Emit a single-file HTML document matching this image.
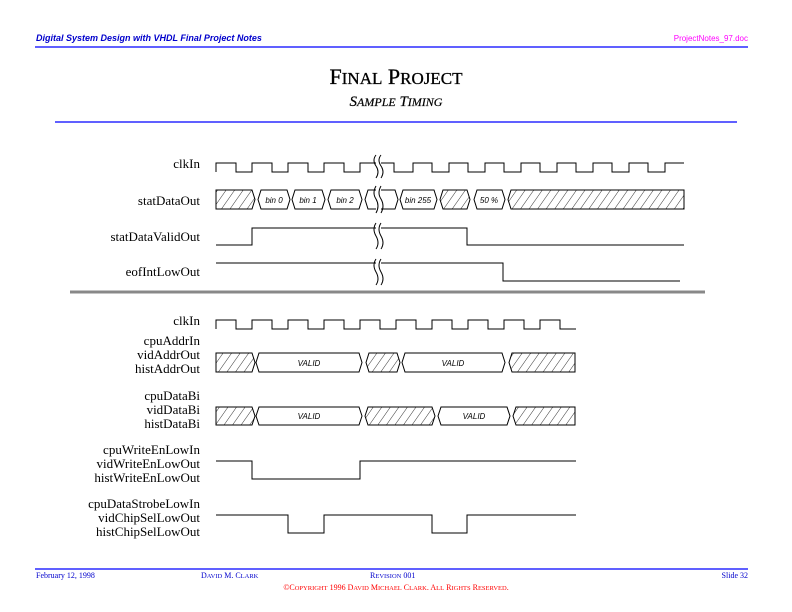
<!DOCTYPE html>
<html><head><meta charset="utf-8"><style>
html,body{margin:0;padding:0;background:#fff}
svg{display:block}
text{font-family:"Liberation Serif",serif}
</style></head><body>
<svg width="792" height="612" viewBox="0 0 792 612" xmlns="http://www.w3.org/2000/svg">
<defs>
<pattern id="h" patternUnits="userSpaceOnUse" width="7" height="7" patternTransform="rotate(35)">
<line x1="0" y1="0" x2="0" y2="7" stroke="#000" stroke-width="0.8"/>
</pattern>
</defs>
<text x="36" y="41" font-style="italic" font-weight="bold" font-size="9" fill="#0000cc" style="font-family:'Liberation Sans',sans-serif">Digital System Design with VHDL Final Project Notes</text>
<text x="748" y="41" text-anchor="end" font-size="8" fill="#ff00ff" style="font-family:'Liberation Sans',sans-serif">ProjectNotes_97.doc</text>
<line x1="35" y1="47" x2="748" y2="47" stroke="#0000ff" stroke-width="1.2"/>
<text x="396" y="84" text-anchor="middle" font-size="22" fill="#000" stroke="#000" stroke-width="0.3">F<tspan font-size="17">INAL</tspan> P<tspan font-size="17">ROJECT</tspan></text>
<text x="396" y="106" text-anchor="middle" font-size="15" font-style="italic" fill="#000" stroke="#000" stroke-width="0.2">S<tspan font-size="12">AMPLE</tspan> T<tspan font-size="12">IMING</tspan></text>
<line x1="55" y1="122" x2="737" y2="122" stroke="#0000ff" stroke-width="1.2"/>

<g font-size="13" text-anchor="end" fill="#000">
<text x="200" y="168">clkIn</text>
<text x="200" y="205">statDataOut</text>
<text x="200" y="241">statDataValidOut</text>
<text x="200" y="276">eofIntLowOut</text>
<text x="200" y="325">clkIn</text>
<text x="200" y="345">cpuAddrIn</text>
<text x="200" y="359">vidAddrOut</text>
<text x="200" y="373">histAddrOut</text>
<text x="200" y="400">cpuDataBi</text>
<text x="200" y="414">vidDataBi</text>
<text x="200" y="428">histDataBi</text>
<text x="200" y="454">cpuWriteEnLowIn</text>
<text x="200" y="468">vidWriteEnLowOut</text>
<text x="200" y="482">histWriteEnLowOut</text>
<text x="200" y="508">cpuDataStrobeLowIn</text>
<text x="200" y="522">vidChipSelLowOut</text>
<text x="200" y="536">histChipSelLowOut</text>
</g>

<g fill="none" stroke="#000" stroke-width="1">
<path d="M216 172 V163 H236 V172 H252 V163 H272 V172 H288 V163 H308 V172 H324 V163 H344 V172 H360 V163 H376 M381 163 H394 V172 H413 V163 H432 V172 H449 V163 H468 V172 H485 V163 H504 V172 H521 V163 H540 V172 H557 V163 H576 V172 H593 V163 H612 V172 H629 V163 H648 V172 H665 V163 H684"/>
<path d="M216 245 H252 V228 H376 M381 228 H467 V245 H684"/>
<path d="M216 263 H376 M381 263 H503 V281 H680"/>
<path d="M216 329 V320 H236 V329 H252 V320 H272 V329 H288 V320 H308 V329 H324 V320 H344 V329 H360 V320 H380 V329 H396 V320 H416 V329 H432 V320 H452 V329 H468 V320 H488 V329 H504 V320 H524 V329 H540 V320 H560 V329 H576"/>
<path d="M216 461 H252 V479 H360 V461 H576"/>
<path d="M216 515 H288 V533 H324 V515 H432 V533 H467 V515 H576"/>
</g>

<g stroke="#000" stroke-width="1">
<path d="M216 190 H252 L255 199.5 L252 209 H216 Z" fill="url(#h)"/>
<path d="M258 199.5 L261 190 H287 L290 199.5 L287 209 H261 Z" fill="#fff"/>
<path d="M292 199.5 L295 190 H322 L325 199.5 L322 209 H295 Z" fill="#fff"/>
<path d="M328 199.5 L331 190 H359 L362 199.5 L359 209 H331 Z" fill="#fff"/>
<path d="M376 209 H368 L365 199.5 L368 190 H376" fill="none"/>
<path d="M381 190 H395 L398 199.5 L395 209 H381" fill="none"/>
<path d="M400 199.5 L403 190 H434 L437 199.5 L434 209 H403 Z" fill="#fff"/>
<path d="M440 199.5 L443 190 H467 L470 199.5 L467 209 H443 Z" fill="url(#h)"/>
<path d="M474 199.5 L477 190 H502 L505 199.5 L502 209 H477 Z" fill="#fff"/>
<path d="M508 199.5 L511 190 H684 V209 H511 Z" fill="url(#h)"/>
<path d="M216 353 H252 L255 362.5 L252 372 H216 Z" fill="url(#h)"/>
<path d="M256 362.5 L259 353 H359 L362 362.5 L359 372 H259 Z" fill="#fff"/>
<path d="M366 362.5 L369 353 H397 L400 362.5 L397 372 H369 Z" fill="url(#h)"/>
<path d="M402 362.5 L405 353 H502 L505 362.5 L502 372 H405 Z" fill="#fff"/>
<path d="M509 362.5 L512 353 H575 V372 H512 Z" fill="url(#h)"/>
<path d="M216 407 H252 L255 416 L252 425 H216 Z" fill="url(#h)"/>
<path d="M256 416 L259 407 H359 L362 416 L359 425 H259 Z" fill="#fff"/>
<path d="M365 416 L368 407 H432 L435 416 L432 425 H368 Z" fill="url(#h)"/>
<path d="M438 416 L441 407 H507 L510 416 L507 425 H441 Z" fill="#fff"/>
<path d="M513 416 L516 407 H575 V425 H516 Z" fill="url(#h)"/>
</g>
<g font-size="8" font-style="italic" text-anchor="middle">
<text x="274" y="203" style="font-family:'Liberation Sans',sans-serif">bin 0</text>
<text x="308" y="203" style="font-family:'Liberation Sans',sans-serif">bin 1</text>
<text x="345" y="203" style="font-family:'Liberation Sans',sans-serif">bin 2</text>
<text x="418" y="203" style="font-family:'Liberation Sans',sans-serif">bin 255</text>
<text x="489" y="203" style="font-family:'Liberation Sans',sans-serif">50 %</text>
<text x="309" y="366" style="font-family:'Liberation Sans',sans-serif">VALID</text>
<text x="453" y="366" style="font-family:'Liberation Sans',sans-serif">VALID</text>
<text x="309" y="419" style="font-family:'Liberation Sans',sans-serif">VALID</text>
<text x="474" y="419" style="font-family:'Liberation Sans',sans-serif">VALID</text>
</g>

<g fill="none" stroke="#000" stroke-width="1">
<path d="M376 155 Q372 160 376 166 Q380 172 376 178"/>
<path d="M381 155 Q377 160 381 166 Q385 172 381 178"/>
<path d="M376 186 Q372 193 376 199 Q380 206 376 213"/>
<path d="M381 186 Q377 193 381 199 Q385 206 381 213"/>
<path d="M376 223 Q372 229 376 236 Q380 243 376 249"/>
<path d="M381 223 Q377 229 381 236 Q385 243 381 249"/>
<path d="M376 259 Q372 265 376 272 Q380 279 376 285"/>
<path d="M381 259 Q377 265 381 272 Q385 279 381 285"/>
</g>

<line x1="70" y1="292" x2="705" y2="292" stroke="#888" stroke-width="3"/>

<line x1="35" y1="569" x2="748" y2="569" stroke="#0000ff" stroke-width="1.2"/>
<g font-size="8" fill="#0000cc">
<text x="36" y="578">February 12, 1998</text>
<text x="201" y="578">D<tspan font-size="6.5">AVID</tspan> M. C<tspan font-size="6.5">LARK</tspan></text>
<text x="370" y="578">R<tspan font-size="6.5">EVISION</tspan> 001</text>
<text x="748" y="578" text-anchor="end">Slide 32</text>
</g>
<text x="396" y="590" text-anchor="middle" font-size="8" fill="#ff0000">©C<tspan font-size="6.5">OPYRIGHT</tspan> 1996 D<tspan font-size="6.5">AVID</tspan> M<tspan font-size="6.5">ICHAEL</tspan> C<tspan font-size="6.5">LARK</tspan>. A<tspan font-size="6.5">LL</tspan> R<tspan font-size="6.5">IGHTS</tspan> R<tspan font-size="6.5">ESERVED</tspan>.</text>
</svg>
</body></html>
